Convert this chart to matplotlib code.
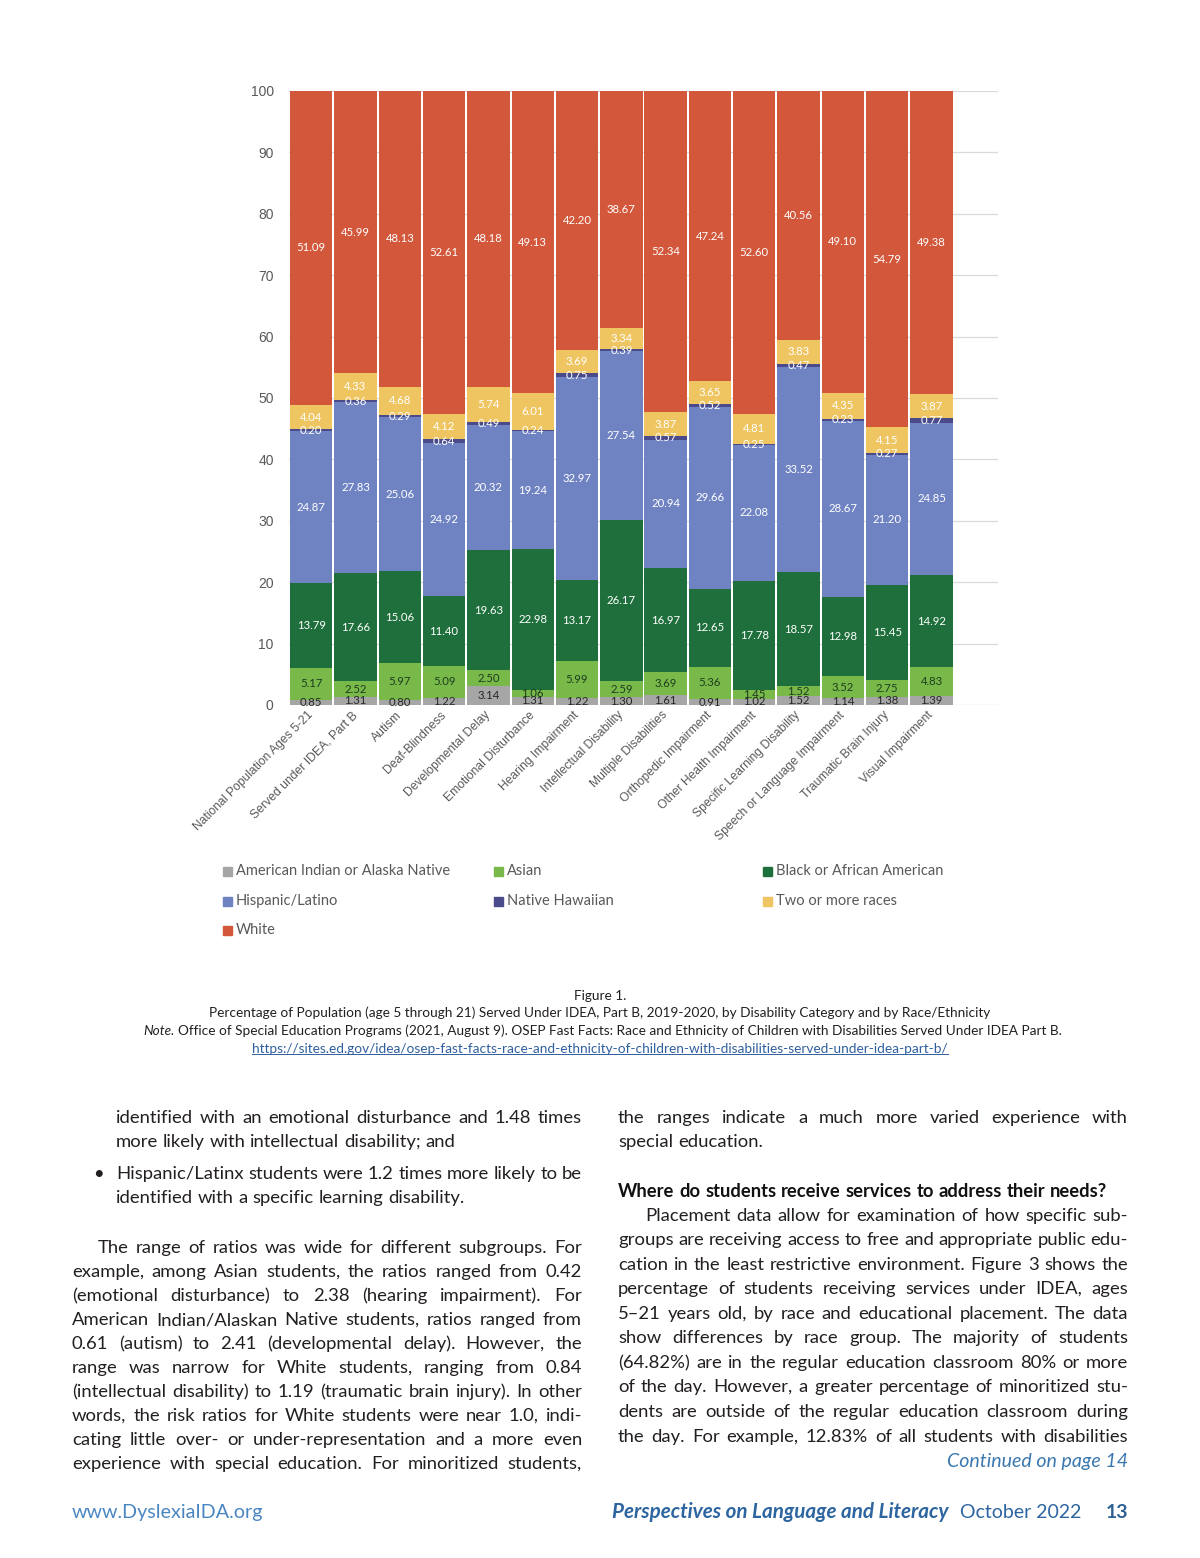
import matplotlib
matplotlib.use('Agg')
import matplotlib.pyplot as plt
import numpy as np
from matplotlib.patches import Rectangle

# chart data (percent of each group)
categories = ['National Population Ages 5-21', 'Served under IDEA, Part B', 'Autism',
              'Deaf-Blindness', 'Developmental Delay', 'Emotional Disturbance',
              'Hearing Impairment', 'Intellectual Disability', 'Multiple Disabilities',
              'Orthopedic Impairment', 'Other Health Impairment', 'Specific Learning Disability',
              'Speech or Language Impairment', 'Traumatic Brain Injury', 'Visual Impairment']
races = ['American Indian or Alaska Native', 'Asian', 'Black or African American',
         'Hispanic/Latino', 'Native Hawaiian', 'Two or more races', 'White']
american_indian = [0.85, 1.31, 0.80, 1.22, 3.14, 1.31, 1.22, 1.30, 1.61, 0.91, 1.02, 1.52, 1.14, 1.38, 1.39]
asian = [5.17, 2.52, 5.97, 5.09, 2.50, 1.06, 5.99, 2.59, 3.69, 5.36, 1.45, 1.52, 3.52, 2.75, 4.83]
black = [13.79, 17.66, 15.06, 11.40, 19.63, 22.98, 13.17, 26.17, 16.97, 12.65, 17.78, 18.57, 12.98, 15.45, 14.92]
hispanic = [24.87, 27.83, 25.06, 24.92, 20.32, 19.24, 32.97, 27.54, 20.94, 29.66, 22.08, 33.52, 28.67, 21.20, 24.85]
native_hawaiian = [0.20, 0.36, 0.29, 0.64, 0.49, 0.24, 0.75, 0.39, 0.57, 0.52, 0.25, 0.47, 0.23, 0.27, 0.77]
two_or_more = [4.04, 4.33, 4.68, 4.12, 5.74, 6.01, 3.69, 3.34, 3.87, 3.65, 4.81, 3.83, 4.35, 4.15, 3.87]
white = [51.09, 45.99, 48.13, 52.61, 48.18, 49.13, 42.20, 38.67, 52.34, 47.24, 52.60, 40.56, 49.10, 54.79, 49.38]

series = [american_indian, asian, black, hispanic, native_hawaiian, two_or_more, white]
colors = ['#a6a6a6', '#78b94a', '#1e6f3b', '#6f83c3', '#4b4b8c', '#eec561', '#d2573b']
label_colors = ['#262626', '#1e3d1e', 'white', 'white', 'white', 'white', 'white']

W, H = 1200, 1558
fig = plt.figure(figsize=(12, 15.58), dpi=100)


def fx(x):
    return x / W


def fy(y):
    return 1 - y / H


ax = fig.add_axes([fx(289), fy(705), (998 - 289) / W, (705 - 91) / H])
x = np.arange(len(categories))
bottom = np.zeros(len(categories))
for name, vals, col, lc in zip(races, series, colors, label_colors):
    vals = np.array(vals)
    bars = ax.bar(x, vals, 0.955, bottom=bottom, color=col, label=name, zorder=2)
    ax.bar_label(bars, labels=[f'{v:.2f}' for v in vals], label_type='center',
                 color=lc, fontsize=8.2, family='Lato')
    bottom += vals

ax.set_xlim(-0.5, 15.5)
ax.set_ylim(0, 100)
ax.set_yticks(range(0, 101, 10))
ax.grid(axis='y', color='#d9d9d9', lw=0.9)
ax.set_axisbelow(True)
for s in ax.spines.values():
    s.set_visible(False)
ax.tick_params(axis='y', length=0, pad=11, labelsize=10, labelcolor='#595959')
ax.tick_params(axis='x', length=0, pad=6)
ax.set_xticks(x, categories, rotation=45, ha='right', va='center', rotation_mode='anchor',
              fontsize=8.7, color='#595959', family='Liberation Sans')
for t in ax.get_yticklabels():
    t.set_family('Liberation Sans')

# legend, three columns
leg_x = [223, 494, 763]
leg_y = [871, 901, 930]
for i, (name, col) in enumerate(zip(races, colors)):
    lx, ly = leg_x[i % 3], leg_y[i // 3]
    fig.patches.append(Rectangle((fx(lx), fy(ly + 4.5)), 9 / W, 9 / H, color=col,
                                 transform=fig.transFigure, figure=fig))
    fig.text(fx(lx + 13), fy(ly), name, fontsize=10.5, family='Lato', color='#595959',
             va='center', ha='left')

fig.canvas.draw()
renderer = fig.canvas.get_renderer()

# caption
cap = dict(fontsize=9.8, family='Lato', color='#231f20', va='center')
fig.text(0.5, fy(996), 'Figure 1.', ha='center', **cap)
fig.text(0.5, fy(1013), 'Percentage of Population (age 5 through 21) Served Under IDEA, Part B, '
         '2019-2020, by Disability Category and by Race/Ethnicity', ha='center', **cap)
note = fig.text(fx(143), fy(1031), 'Note.', style='italic', ha='left', **cap)
nb = note.get_window_extent(renderer)
fig.text(fx(nb.x1 + 4), fy(1031), 'Office of Special Education Programs (2021, August 9). OSEP Fast Facts: '
         'Race and Ethnicity of Children with Disabilities Served Under IDEA Part B.',
         ha='left', **cap)
link = fig.text(0.5, fy(1049), 'https://sites.ed.gov/idea/osep-fast-facts-race-and-ethnicity-of-'
                'children-with-disabilities-served-under-idea-part-b/',
                fontsize=9.8, family='Lato', color='#2f5f9e', ha='center', va='center')

bb = link.get_window_extent(renderer)
fig.add_artist(plt.Line2D([bb.x0 / W, bb.x1 / W], [bb.y0 / H + 0.0006, bb.y0 / H + 0.0006],
                          color='#2f5f9e', lw=0.7, transform=fig.transFigure))

body = dict(fontsize=13.3, family='Lato', color='#231f20', va='baseline', ha='left')


def put_line(line, x0, x1, yc, justify=True, **kw):
    style = dict(body)
    style.update(kw)
    words = line.split(' ')
    texts = [fig.text(0, 0, w, **style) for w in words]
    widths = [t.get_window_extent(renderer).width for t in texts]
    if justify and len(words) > 1:
        gap = (x1 - x0 - sum(widths)) / (len(words) - 1)
    else:
        gap = style['fontsize'] * 100 / 72 * 0.26
    xx = x0
    for t, w in zip(texts, widths):
        t.set_position((fx(xx), fy(yc + 5)))
        xx += w + gap


left_lines = [
    ('identified with an emotional disturbance and 1.48 times', 116, 1118, True),
    ('more likely with intellectual disability; and', 116, 1142, False),
    ('Hispanic/Latinx students were 1.2 times more likely to be', 116, 1174, True),
    ('identified with a specific learning disability.', 116, 1198, False),
    ('The range of ratios was wide for different subgroups. For', 98, 1248, True),
    ('example, among Asian students, the ratios ranged from 0.42', 72, 1272, True),
    ('(emotional disturbance) to 2.38 (hearing impairment). For', 72, 1296, True),
    ('American Indian/Alaskan Native students, ratios ranged from', 72, 1320, True),
    ('0.61 (autism) to 2.41 (developmental delay). However, the', 72, 1344, True),
    ('range was narrow for White students, ranging from 0.84', 72, 1368, True),
    ('(intellectual disability) to 1.19 (traumatic brain injury). In other', 72, 1392, True),
    ('words, the risk ratios for White students were near 1.0, indi-', 72, 1416, True),
    ('cating little over- or under-representation and a more even', 72, 1440, True),
    ('experience with special education. For minoritized students,', 72, 1464, True),
]
for line, x0, yc, j in left_lines:
    put_line(line, x0, 582, yc, j)
fig.text(fx(93), fy(1179), '\u2022', **body)

right_lines = [
    ('the ranges indicate a much more varied experience with', 618, 1118, True),
    ('special education.', 618, 1142, False),
    ('Placement data allow for examination of how specific sub-', 645, 1216, True),
    ('groups are receiving access to free and appropriate public edu-', 618, 1240, True),
    ('cation in the least restrictive environment. Figure 3 shows the', 618, 1265, True),
    ('percentage of students receiving services under IDEA, ages', 618, 1289, True),
    ('5\u201321 years old, by race and educational placement. The data', 618, 1314, True),
    ('show differences by race group. The majority of students', 618, 1338, True),
    ('(64.82%) are in the regular education classroom 80% or more', 618, 1363, True),
    ('of the day. However, a greater percentage of minoritized stu-', 618, 1387, True),
    ('dents are outside of the regular education classroom during', 618, 1412, True),
    ('the day. For example, 12.83% of all students with disabilities', 618, 1437, True),
]
for line, x0, yc, j in right_lines:
    put_line(line, x0, 1128, yc, j)
put_line('Where do students receive services to address their needs?', 618, 1128, 1192,
         False, weight='bold', color='#111111', fontsize=13.2)

fig.text(fx(1128), fy(1467), 'Continued on page 14', fontsize=14.1, family='Lato',
         style='italic', color='#3b78b0', ha='right', va='baseline')

# footer
fig.text(fx(72), fy(1518), 'www.DyslexiaIDA.org', fontsize=14.2, family='Lato',
         color='#4a86c2', ha='left', va='baseline')
fig.text(fx(1128), fy(1518), '13', fontsize=14, family='Lato', weight='bold',
         color='#2d5f93', ha='right', va='baseline')
fig.text(fx(1081), fy(1518), 'October 2022', fontsize=14, family='Lato',
         color='#2d65a0', ha='right', va='baseline')
fig.text(fx(948), fy(1518), 'Perspectives on Language and Literacy', fontsize=14.9,
         family='Lato', style='italic', weight='bold', color='#2d65a0', ha='right',
         va='baseline')

fig.savefig('out.png', dpi=100)
